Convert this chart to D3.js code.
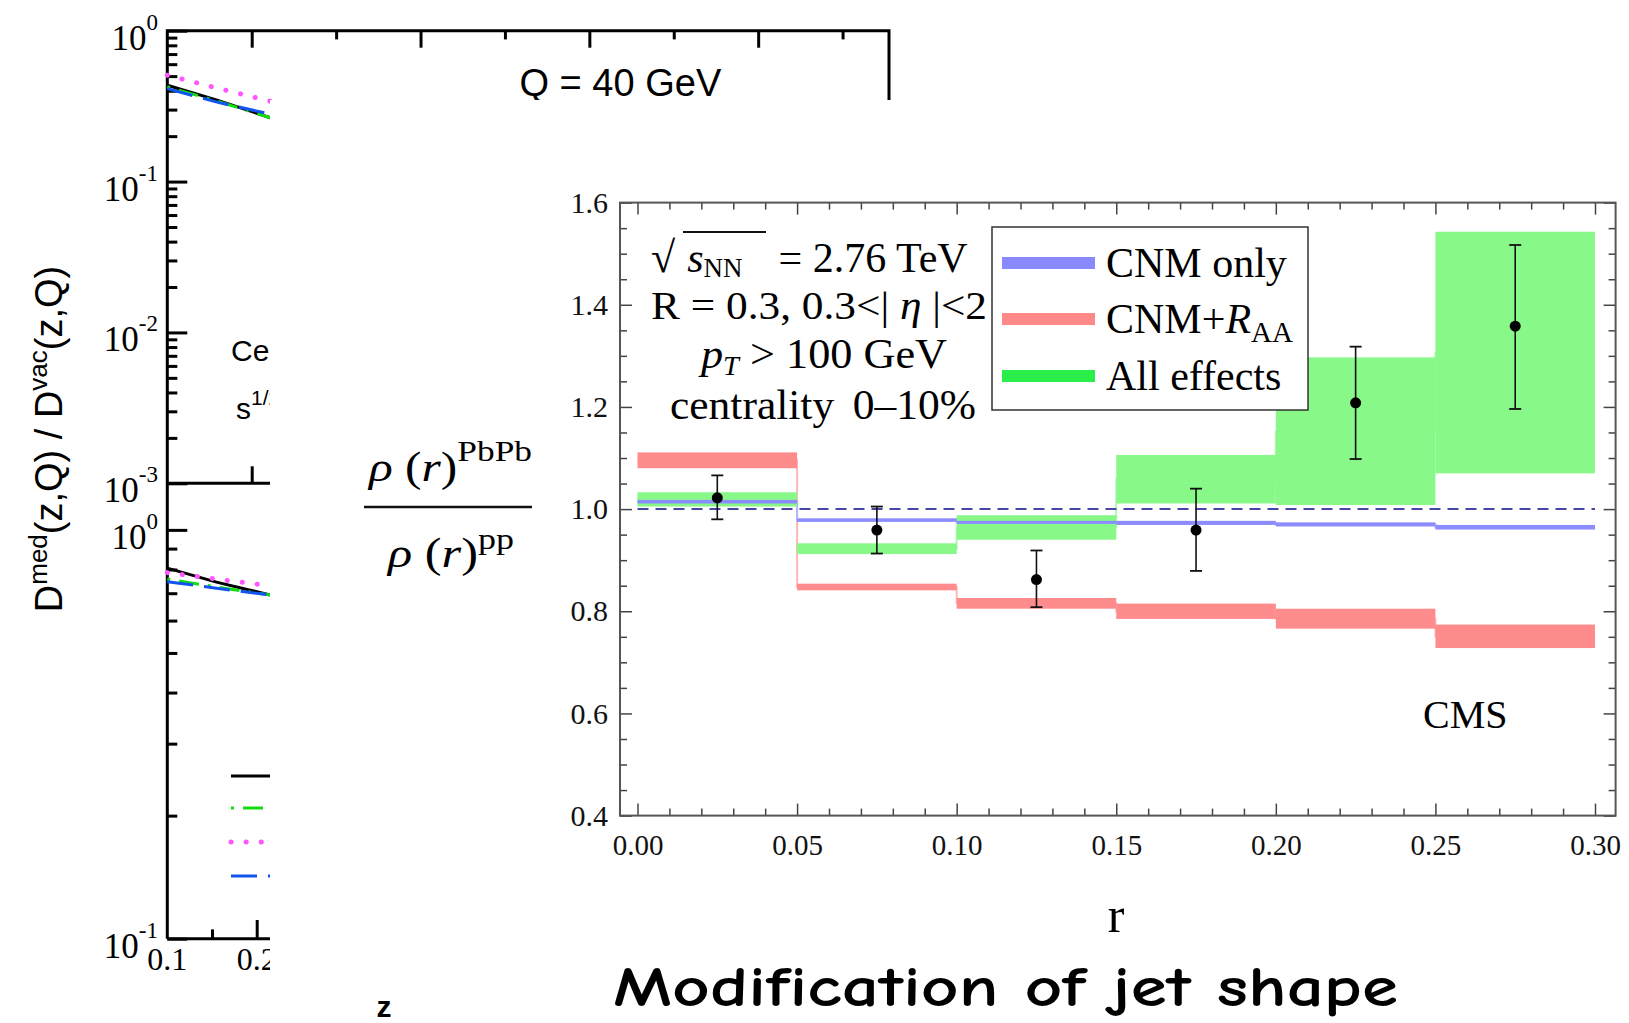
<!DOCTYPE html>
<html lang="en">
<head>
	<meta charset="utf-8">
	<title>Modification of jet shape</title>
	<script src="https://d3js.org/d3.v7.min.js" charset="utf-8"></script>
	<style>
		body { margin: 0; background: #fff; }
		svg { display: block; }
		.serif { font-family: 'Liberation Serif', 'Times New Roman', serif; }
		.sans { font-family: 'Liberation Sans', Arial, sans-serif; }
	</style>
</head>
<body>
	<script>
		// ---------- left figure (partly hidden): Dmed/Dvac vs z ----------
		var zTop = [0.10, 0.16, 0.222];
		var topSolid = [0.435, 0.345, 0.265];
		var topDashDot = [0.425, 0.340, 0.265];
		var topDotted = [0.507, 0.415, 0.341];
		var topDashed = [0.413, 0.335, 0.280];

		var zBottom = [0.10, 0.155, 0.215];
		var botSolid = [0.806, 0.745, 0.693];
		var botDashDot = [0.758, 0.725, 0.693];
		var botDotted = [0.786, 0.758, 0.730];
		var botDashed = [0.747, 0.720, 0.693];

		var topDecades = [1, 0.1, 0.01, 0.001];
		var topDecadeExp = ["0", "-1", "-2", "-3"];
		var bottomDecades = [1, 0.1];
		var bottomDecadeExp = ["0", "-1"];
		var zLabels = [0.1, 0.2];

		// ---------- right figure: jet shape ratio ----------
		var binEdges = [0.00, 0.05, 0.10, 0.15, 0.20, 0.25, 0.30];
		var cnmLow  = [1.011, 0.975, 0.971, 0.969, 0.966, 0.960];
		var cnmHigh = [1.018, 0.982, 0.977, 0.977, 0.974, 0.969];
		var raaLow  = [1.080, 0.841, 0.805, 0.785, 0.766, 0.728];
		var raaHigh = [1.111, 0.854, 0.826, 0.815, 0.805, 0.774];
		var allLow  = [1.005, 0.912, 0.940, 1.011, 1.008, 1.070];
		var allHigh = [1.033, 0.933, 0.988, 1.106, 1.297, 1.543];

		var cmsR   = [0.025, 0.075, 0.125, 0.175, 0.225, 0.275];
		var cmsVal = [1.022, 0.959, 0.862, 0.959, 1.208, 1.358];
		var cmsLo  = [0.980, 0.913, 0.808, 0.879, 1.098, 1.196];
		var cmsHi  = [1.066, 1.005, 0.919, 1.040, 1.318, 1.517];

		var rTicks = [0.00, 0.05, 0.10, 0.15, 0.20, 0.25, 0.30];
		var ratioTicks = [0.4, 0.6, 0.8, 1.0, 1.2, 1.4, 1.6];

		var W = 1629, H = 1023;

		var svg = d3.select("body")
			.append("svg")
			.attr("width", W)
			.attr("height", H)
			;

		svg.append("rect").attr("width", W).attr("height", H).attr("fill", "#fff");

		// ================= left figure =================
		var left = svg.append("g");

		var zTopScale = d3.scaleLinear().domain([0.1, 0.955]).range([167.3, 889]);
		var zBotScale = d3.scaleLinear().domain([0.1, 0.9]).range([167.3, 882.5]);
		var yTop = d3.scaleLog().domain([0.001, 1]).range([483.3, 30.7]);
		var yBot = d3.scaleLog().domain([0.1, 1.3]).range([938.7, 483.3]);

		var xL = zTopScale.range()[0], xRgt = zTopScale.range()[1];

		// frame
		left.append("path")
			.attr("d", "M" + xL + "," + yBot.range()[0] + "V" + yTop.range()[1] + "H" + xRgt + "V" + yTop.range()[0]
				+ "M" + xL + "," + yTop.range()[0] + "H" + xRgt
				+ "M" + xL + "," + yBot.range()[0] + "H" + xRgt)
			.attr("fill", "none")
			.attr("stroke", "#000")
			.attr("stroke-width", 3)
			;

		function styleTicks(g){
			g.select(".domain").remove();
			g.selectAll("line").attr("stroke", "#000").attr("stroke-width", 3);
			g.selectAll("text").remove();
		}

		// log ticks, top panel
		var topMinor = yTop.ticks().filter(function(v){ return Math.abs(Math.log10(v) - Math.round(Math.log10(v))) > 1e-6; });
		left.append("g").attr("transform", "translate(" + xL + ",0)")
			.call(d3.axisRight(yTop).tickValues(topDecades).tickSize(20).tickFormat(""))
			.call(styleTicks);
		left.append("g").attr("transform", "translate(" + xL + ",0)")
			.call(d3.axisRight(yTop).tickValues(topMinor).tickSize(10).tickFormat(""))
			.call(styleTicks);

		// log ticks, bottom panel
		var botMinor = [0.2, 0.3, 0.4, 0.5, 0.6, 0.7, 0.8, 0.9];
		left.append("g").attr("transform", "translate(" + xL + ",0)")
			.call(d3.axisRight(yBot).tickValues(bottomDecades).tickSize(20).tickFormat(""))
			.call(styleTicks);
		left.append("g").attr("transform", "translate(" + xL + ",0)")
			.call(d3.axisRight(yBot).tickValues(botMinor).tickSize(10).tickFormat(""))
			.call(styleTicks);

		// z ticks
		var zMajorTop = [0.2, 0.4, 0.6, 0.8], zMinorTop = [0.3, 0.5, 0.7, 0.9];
		left.append("g").attr("transform", "translate(0," + yTop.range()[1] + ")")
			.call(d3.axisBottom(zTopScale).tickValues(zMajorTop).tickSize(17).tickFormat("")).call(styleTicks);
		left.append("g").attr("transform", "translate(0," + yTop.range()[1] + ")")
			.call(d3.axisBottom(zTopScale).tickValues(zMinorTop).tickSize(8.7).tickFormat("")).call(styleTicks);
		left.append("g").attr("transform", "translate(0," + yTop.range()[0] + ")")
			.call(d3.axisTop(zTopScale).tickValues(zMajorTop).tickSize(17).tickFormat("")).call(styleTicks);
		left.append("g").attr("transform", "translate(0," + yTop.range()[0] + ")")
			.call(d3.axisTop(zTopScale).tickValues(zMinorTop).tickSize(8.7).tickFormat("")).call(styleTicks);

		left.append("g").attr("transform", "translate(0," + yBot.range()[0] + ")")
			.call(d3.axisTop(zBotScale).tickValues([0.2, 0.3, 0.4, 0.5, 0.6, 0.7, 0.8]).tickSize(18.7).tickFormat("")).call(styleTicks);
		left.append("g").attr("transform", "translate(0," + yBot.range()[0] + ")")
			.call(d3.axisTop(zBotScale).tickValues([0.15, 0.25, 0.35, 0.45, 0.55, 0.65, 0.75, 0.85]).tickSize(9.3).tickFormat("")).call(styleTicks);

		// decade labels 10^n
		function decadeLabel(y, expo){
			var t = left.append("text")
				.attr("class", "serif")
				.attr("x", 158)
				.attr("y", y + 19)
				.attr("text-anchor", "end")
				.attr("font-size", 35)
				.attr("fill", "#000");
			t.append("tspan").text("10");
			t.append("tspan").attr("dy", -20).attr("font-size", 23).text(expo);
		}
		topDecades.forEach(function(d, i){ decadeLabel(yTop(d), topDecadeExp[i]); });
		bottomDecades.forEach(function(d, i){ decadeLabel(yBot(d), bottomDecadeExp[i]); });

		left.selectAll(".zlab")
			.data(zLabels)
			.enter()
			.append("text")
			.attr("class", "serif")
			.attr("x", function(d){ return zBotScale(d); })
			.attr("y", 970)
			.attr("text-anchor", "middle")
			.attr("font-size", 32)
			.text(function(d){ return d3.format(".1f")(d); })
			;

		left.append("text")
			.attr("class", "sans")
			.attr("x", 384)
			.attr("y", 1017)
			.attr("text-anchor", "middle")
			.attr("font-size", 30)
			.attr("font-weight", "bold")
			.text("z");

		// y label
		var yl = left.append("text")
			.attr("class", "sans")
			.attr("transform", "translate(62,439) rotate(-90)")
			.attr("text-anchor", "middle")
			.attr("font-size", 38)
			;
		yl.append("tspan").text("D");
		yl.append("tspan").attr("dy", -15).attr("font-size", 26).text("med");
		yl.append("tspan").attr("dy", 15).text("(z,Q) / D");
		yl.append("tspan").attr("dy", -15).attr("font-size", 26).text("vac");
		yl.append("tspan").attr("dy", 15).text("(z,Q)");

		left.append("text")
			.attr("class", "sans")
			.attr("x", 519.5)
			.attr("y", 96)
			.attr("font-size", 38)
			.text("Q = 40 GeV");

		left.append("text").attr("class", "sans").attr("x", 231).attr("y", 361).attr("font-size", 30).text("Cen");
		var sText = left.append("text").attr("class", "sans").attr("x", 236).attr("y", 419).attr("font-size", 30);
		sText.append("tspan").text("s");
		sText.append("tspan").attr("dy", -14).attr("font-size", 21).text("1/2");

		// curves
		var curveStyles = [
			{ color: "#000", dash: null, cap: "butt" },
			{ color: "#11dd11", dash: "3,9,20,9", cap: "butt" },
			{ color: "#ff55ff", dash: "0.1,15", cap: "round" },
			{ color: "#1155ee", dash: "26,11", cap: "butt" }
		];
		var topSeries = [topSolid, topDashDot, topDotted, topDashed];
		var botSeries = [botSolid, botDashDot, botDotted, botDashed];

		var lineTop = d3.line().x(function(d){ return zTopScale(d[0]); }).y(function(d){ return yTop(d[1]); });
		var lineBot = d3.line().x(function(d){ return zBotScale(d[0]); }).y(function(d){ return yBot(d[1]); });

		function drawCurve(d, i){
			left.append("path")
				.attr("d", d)
				.attr("fill", "none")
				.attr("stroke", curveStyles[i].color)
				.attr("stroke-width", i == 2 ? 5 : 3)
				.attr("stroke-dasharray", curveStyles[i].dash)
				.attr("stroke-linecap", curveStyles[i].cap);
		}
		topSeries.forEach(function(s, i){ drawCurve(lineTop(d3.zip(zTop, s)), i); });
		botSeries.forEach(function(s, i){ drawCurve(lineBot(d3.zip(zBottom, s)), i); });

		// legend lines (labels hidden behind the inset)
		var legY = [776, 808, 842, 876];
		legY.forEach(function(y, i){
			drawCurve("M231," + y + "H290", i);
		});

		// ================= white inset covering the left figure =================
		svg.append("rect")
			.attr("x", 270).attr("y", 100)
			.attr("width", W - 270).attr("height", 895)
			.attr("fill", "#fff");

		// ================= right figure =================
		var right = svg.append("g");

		var xR = d3.scaleLinear().domain([0, 0.3]).range([637.5, 1595]);
		var yR = d3.scaleLinear().domain([0.4, 1.6]).range([815.6, 202.6]);
		var fL = 620, fR = 1615.6, fT = yR(1.6), fB = yR(0.4);

		function styleR(g){
			g.select(".domain").remove();
			g.selectAll("line").attr("stroke", "#444").attr("stroke-width", 1.5);
			g.attr("font-family", "'Liberation Serif', 'Times New Roman', serif").attr("fill", null);
			g.selectAll("text").attr("fill", "#111");
		}

		var rMinor = d3.range(0, 31).filter(function(i){ return i % 5 != 0; }).map(function(i){ return i / 100; });
		var yMinor = d3.range(8, 33).filter(function(i){ return i % 4 != 0; }).map(function(i){ return i / 20; });

		right.append("g").attr("transform", "translate(0," + fB + ")")
			.call(d3.axisBottom(xR).tickValues(rTicks).tickSize(-12).tickPadding(19).tickFormat(d3.format(".2f")))
			.call(styleR).attr("font-size", 29);
		right.append("g").attr("transform", "translate(0," + fB + ")")
			.call(d3.axisBottom(xR).tickValues(rMinor).tickSize(-7).tickFormat("")).call(styleR);
		right.append("g").attr("transform", "translate(0," + fT + ")")
			.call(d3.axisTop(xR).tickValues(rTicks).tickSize(-12).tickFormat("")).call(styleR);
		right.append("g").attr("transform", "translate(0," + fT + ")")
			.call(d3.axisTop(xR).tickValues(rMinor).tickSize(-7).tickFormat("")).call(styleR);

		right.append("g").attr("transform", "translate(" + fL + ",0)")
			.call(d3.axisLeft(yR).tickValues(ratioTicks).tickSize(-12).tickPadding(12).tickFormat(d3.format(".1f")))
			.call(styleR).attr("font-size", 30);
		right.append("g").attr("transform", "translate(" + fL + ",0)")
			.call(d3.axisLeft(yR).tickValues(yMinor).tickSize(-7).tickFormat("")).call(styleR);
		right.append("g").attr("transform", "translate(" + fR + ",0)")
			.call(d3.axisRight(yR).tickValues(ratioTicks).tickSize(-12).tickFormat("")).call(styleR);
		right.append("g").attr("transform", "translate(" + fR + ",0)")
			.call(d3.axisRight(yR).tickValues(yMinor).tickSize(-7).tickFormat("")).call(styleR);

		right.append("rect")
			.attr("x", fL).attr("y", fT)
			.attr("width", fR - fL).attr("height", fB - fT)
			.attr("fill", "none")
			.attr("stroke", "#555")
			.attr("stroke-width", 2);

		// bands
		var bands = [
			{ low: allLow, high: allHigh, fill: "#88f888", edge: "#b0f8b0" },
			{ low: raaLow, high: raaHigh, fill: "#ff8c8c", edge: "#ffb8b8" },
			{ low: cnmLow, high: cnmHigh, fill: "#8c8cff", edge: "#b4b4ff" }
		];
		var stepLine = d3.line()
			.x(function(d){ return xR(d[0]); })
			.y(function(d){ return yR(d[1]); })
			.curve(d3.curveStepAfter);

		bands.forEach(function(b){
			var mids = b.low.map(function(v, i){ return (v + b.high[i]) / 2; });
			var pts = d3.zip(binEdges.slice(0, 6), mids);
			pts.push([binEdges[6], mids[5]]);
			right.append("path")
				.attr("d", stepLine(pts))
				.attr("fill", "none")
				.attr("stroke", b.edge)
				.attr("stroke-width", 2);
		});
		bands.forEach(function(b){
			right.append("g")
				.selectAll("rect")
				.data(b.low)
				.enter()
				.append("rect")
				.attr("x", function(d, i){ return xR(binEdges[i]); })
				.attr("width", function(d, i){ return xR(binEdges[i + 1]) - xR(binEdges[i]); })
				.attr("y", function(d, i){ return yR(b.high[i]); })
				.attr("height", function(d, i){ return yR(d) - yR(b.high[i]); })
				.attr("fill", b.fill)
				;
		});

		// reference line at 1
		right.append("line")
			.attr("x1", xR(0)).attr("x2", xR(0.3))
			.attr("y1", yR(1)).attr("y2", yR(1))
			.attr("stroke", "#4646a6")
			.attr("stroke-width", 2)
			.attr("stroke-dasharray", "11,7");

		// CMS data with error bars
		var pts = right.append("g").selectAll("g")
			.data(cmsR)
			.enter()
			.append("g");
		pts.append("line")
			.attr("x1", function(d){ return xR(d); }).attr("x2", function(d){ return xR(d); })
			.attr("y1", function(d, i){ return yR(cmsHi[i]); })
			.attr("y2", function(d, i){ return yR(cmsLo[i]); })
			.attr("stroke", "#111").attr("stroke-width", 1.6);
		[cmsHi, cmsLo].forEach(function(arr){
			pts.append("line")
				.attr("x1", function(d){ return xR(d) - 6; }).attr("x2", function(d){ return xR(d) + 6; })
				.attr("y1", function(d, i){ return yR(arr[i]); })
				.attr("y2", function(d, i){ return yR(arr[i]); })
				.attr("stroke", "#111").attr("stroke-width", 1.8);
		});
		pts.append("circle")
			.attr("cx", function(d){ return xR(d); })
			.attr("cy", function(d, i){ return yR(cmsVal[i]); })
			.attr("r", 5.5)
			.attr("fill", "#000");

		// text block
		var serifFont = "'Liberation Serif', 'Times New Roman', serif";
		right.append("line").attr("x1", 683).attr("x2", 766).attr("y1", 232).attr("y2", 232).attr("stroke", "#111").attr("stroke-width", 2);
		var t1 = right.append("text").attr("font-family", serifFont).attr("x", 651).attr("y", 272).attr("font-size", 42);
		t1.append("tspan").attr("font-size", 44).text("\u221A");
		t1.append("tspan").attr("font-style", "italic").attr("dx", 12).text("s");
		t1.append("tspan").attr("dy", 5).attr("font-size", 27).text("NN");
		t1.append("tspan").attr("dy", -5).attr("dx", 36).text("= 2.76 TeV");

		var t2 = right.append("text").attr("font-family", serifFont).attr("x", 651).attr("y", 319).attr("font-size", 40)
			.attr("textLength", 336).attr("lengthAdjust", "spacingAndGlyphs");
		t2.append("tspan").text("R = 0.3, 0.3<| ");
		t2.append("tspan").attr("font-style", "italic").text("\u03B7");
		t2.append("tspan").text(" |<2");

		var t3 = right.append("text").attr("font-family", serifFont).attr("x", 701).attr("y", 368).attr("font-size", 42)
			.attr("textLength", 246).attr("lengthAdjust", "spacingAndGlyphs");
		t3.append("tspan").attr("font-style", "italic").text("p");
		t3.append("tspan").attr("font-style", "italic").attr("dy", 7).attr("font-size", 27).text("T");
		t3.append("tspan").attr("dy", -7).text(" > 100 GeV");

		var t4 = right.append("text").attr("font-family", serifFont).attr("x", 670).attr("y", 419).attr("font-size", 42)
			.attr("textLength", 306).attr("lengthAdjust", "spacingAndGlyphs");
		t4.append("tspan").text("centrality");
		t4.append("tspan").attr("dx", 18).text("0\u201310%");

		// legend
		right.append("rect")
			.attr("x", 992).attr("y", 227)
			.attr("width", 316).attr("height", 183)
			.attr("fill", "#fff")
			.attr("stroke", "#333")
			.attr("stroke-width", 1.5);
		var legColors = ["#8888ff", "#ff8888", "#2aee4a"];
		var legBase = [277, 333, 390];
		legColors.forEach(function(c, i){
			right.append("rect")
				.attr("x", 1002).attr("y", legBase[i] - 20)
				.attr("width", 93).attr("height", 12)
				.attr("fill", c);
		});
		right.append("text").attr("font-family", serifFont).attr("x", 1106).attr("y", legBase[0]).attr("font-size", 42).text("CNM only");
		var l2 = right.append("text").attr("font-family", serifFont).attr("x", 1106).attr("y", legBase[1]).attr("font-size", 42);
		l2.append("tspan").text("CNM+");
		l2.append("tspan").attr("font-style", "italic").text("R");
		l2.append("tspan").attr("dy", 9).attr("font-size", 29).text("AA");
		right.append("text").attr("font-family", serifFont).attr("x", 1106).attr("y", legBase[2]).attr("font-size", 42).text("All effects");

		right.append("text").attr("font-family", serifFont).attr("x", 1423).attr("y", 728).attr("font-size", 40).text("CMS");

		// axis titles
		right.append("text").attr("font-family", serifFont).attr("x", 1116).attr("y", 932)
			.attr("text-anchor", "middle").attr("font-size", 50).text("r");

		var num = right.append("text").attr("font-family", serifFont).attr("x", 369).attr("y", 481)
			.attr("font-size", 42).attr("textLength", 163).attr("lengthAdjust", "spacingAndGlyphs");
		num.append("tspan").attr("font-style", "italic").text("\u03C1");
		num.append("tspan").text(" (");
		num.append("tspan").attr("font-style", "italic").text("r");
		num.append("tspan").text(")");
		num.append("tspan").attr("dy", -20).attr("font-size", 30).text("PbPb");

		right.append("line").attr("x1", 364).attr("x2", 532).attr("y1", 507).attr("y2", 507)
			.attr("stroke", "#111").attr("stroke-width", 2.5);

		var den = right.append("text").attr("font-family", serifFont).attr("x", 388).attr("y", 567)
			.attr("font-size", 42).attr("textLength", 126).attr("lengthAdjust", "spacingAndGlyphs");
		den.append("tspan").attr("font-style", "italic").text("\u03C1");
		den.append("tspan").text(" (");
		den.append("tspan").attr("font-style", "italic").text("r");
		den.append("tspan").text(")");
		den.append("tspan").attr("dy", -18).attr("font-size", 30).text("pp");

		// slide title
		svg.append("text")
			.attr("x", 613)
			.attr("y", 1006)
			.attr("font-family", "'Comic Sans MS', 'Comic Neue', 'DejaVu Sans', cursive")
			.attr("font-size", 56)
			.attr("font-weight", "bold")
			.attr("textLength", 785)
			.attr("lengthAdjust", "spacingAndGlyphs")
			.text("Modification of jet shape");
	</script>
</body>
</html>
